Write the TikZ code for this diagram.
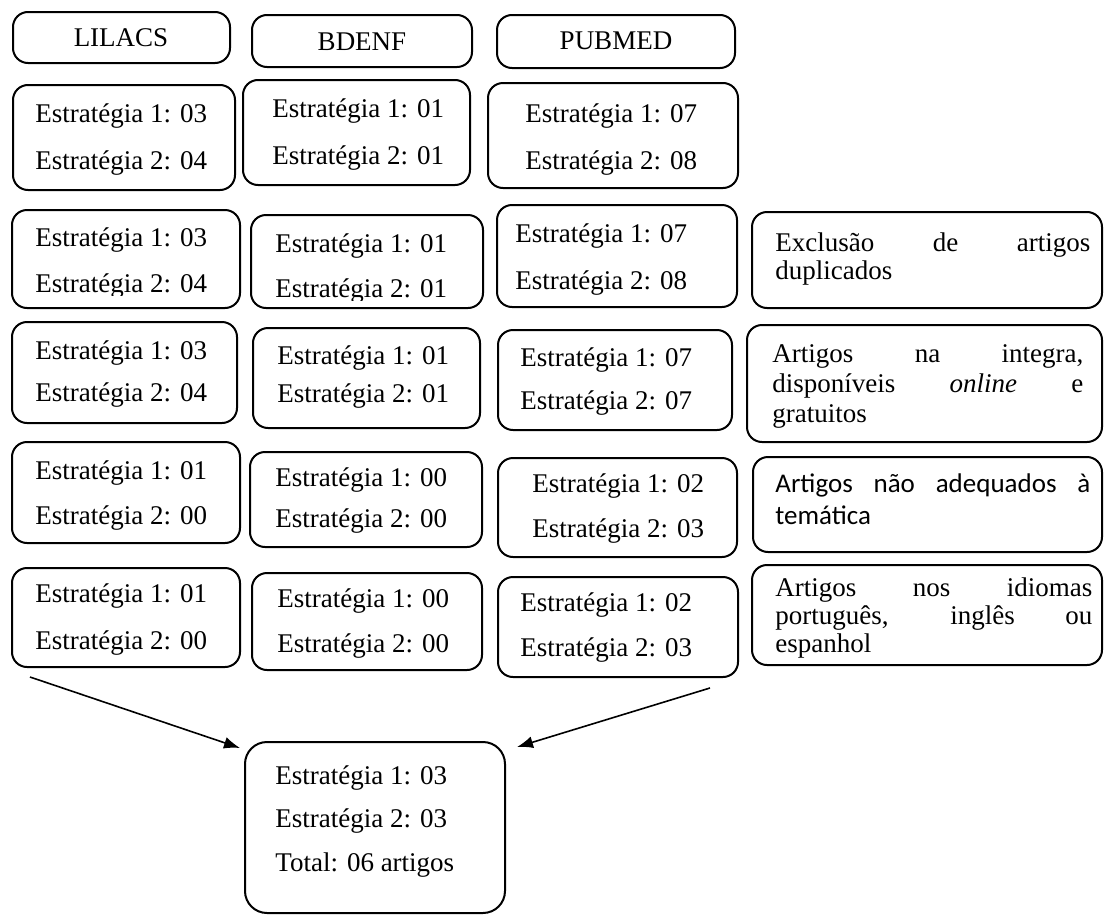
\documentclass[tikz,border=0pt]{standalone}
\usepackage{fontspec}
\setmainfont{Liberation Serif}
\newfontfamily\calib{Carlito}
\usetikzlibrary{fit,arrows.meta}
\begin{document}
\begin{tikzpicture}[x=0.5pt,y=-0.5pt,
  box/.style={draw, line width=1pt, rounded corners=7.5pt, inner sep=0pt},
  bigbox/.style={box, rounded corners=11pt},
  txt/.style={anchor=base west, inner sep=0pt, font=\fontsize{13.5}{16}\selectfont},
  ctxt/.style={anchor=base west, inner sep=0pt, font=\calib\fontsize{13.5}{16}\selectfont},
  hdr/.style={anchor=base, inner sep=0pt, font=\fontsize{13.5}{16}\selectfont},
  arr/.style={-{Latex[length=8pt,width=6pt]}, line width=0.8pt}]
\path[use as bounding box, fill=white] (0,0) rectangle (1104,916);
% headers
\node[box, fit={(13,12) (230,63)}] (lil) {};
\node[box, fit={(252,15) (472,67)}] (bde) {};
\node[box, fit={(497,15) (735,68)}] (pub) {};
\node[hdr] (tlil) at (121,46) {LILACS};
\node[hdr] (tbde) at (362,50) {BDENF};
\node[hdr] (tpub) at (616,49) {PUBMED};
% row 1
\node[box, fit={(13,85) (235,190)}] (l1) {};
\node[box, fit={(243,80) (470,185)}] (b1) {};
\node[box, fit={(488,83) (738,188)}] (p1) {};
\node[txt] (l1a) at (35,122) {Estratégia 1: 03};
\node[txt] (l1b) at (35,169) {Estratégia 2: 04};
\node[txt] (b1a) at (272,117) {Estratégia 1: 01};
\node[txt] (b1b) at (272,164) {Estratégia 2: 01};
\node[txt] (p1a) at (525,122) {Estratégia 1: 07};
\node[txt] (p1b) at (525,169) {Estratégia 2: 08};
% row 2
\node[box, fit={(12,210) (240,308)}] (l2) {};
\node[box, fit={(251,215) (483,308)}] (b2) {};
\node[box, fit={(497,205) (737,307)}] (p2) {};
\node[box, fit={(752,212) (1102,308)}] (r2) {};
\node[txt] (l2a) at (35,246) {Estratégia 1: 03};
\begin{scope}
  \clip (20,250) rectangle (235,295);
  \node[txt] (l2b) at (35,292) {Estratégia 2: 04};
\end{scope}
\node[txt] (b2a) at (275,252) {Estratégia 1: 01};
\begin{scope}
  \clip (255,256) rectangle (478,300);
  \node[txt] (b2b) at (275,297) {Estratégia 2: 01};
\end{scope}
\node[txt] (p2a) at (515,242) {Estratégia 1: 07};
\node[txt] (p2b) at (515,289) {Estratégia 2: 08};
\node[txt] (r2a) at (775,251) {\makebox[157.5pt][s]{Exclusão de artigos}};
\node[txt] (r2b) at (775,279) {duplicados};
% row 3
\node[box, fit={(12,322) (237,423)}] (l3) {};
\node[box, fit={(253,328) (480,428)}] (b3) {};
\node[box, fit={(498,330) (732,430)}] (p3) {};
\node[box, fit={(747,325) (1102,442)}] (r3) {};
\node[txt] (l3a) at (35,359) {Estratégia 1: 03};
\node[txt] (l3b) at (35,401) {Estratégia 2: 04};
\node[txt] (b3a) at (277,364) {Estratégia 1: 01};
\node[txt] (b3b) at (277,402) {Estratégia 2: 01};
\node[txt] (p3a) at (520,366) {Estratégia 1: 07};
\node[txt] (p3b) at (520,409) {Estratégia 2: 07};
\node[txt] (r3a) at (772,362) {\makebox[155.5pt][s]{Artigos na integra,}};
\node[txt] (r3b) at (772,392) {\makebox[155.5pt][s]{disponíveis \textit{online} e}};
\node[txt] (r3c) at (772,422) {gratuitos};
% row 4
\node[box, fit={(12,442) (240,543)}] (l4) {};
\node[box, fit={(250,452) (482,547)}] (b4) {};
\node[box, fit={(498,458) (737,557)}] (p4) {};
\node[box, fit={(753,457) (1102,552)}] (r4) {};
\node[txt] (l4a) at (35,479) {Estratégia 1: 01};
\node[txt] (l4b) at (35,524) {Estratégia 2: 00};
\node[txt] (b4a) at (275,486) {Estratégia 1: 00};
\node[txt] (b4b) at (275,527) {Estratégia 2: 00};
\node[txt] (p4a) at (532,492) {Estratégia 1: 02};
\node[txt] (p4b) at (532,537) {Estratégia 2: 03};
\node[ctxt] (r4a) at (775,492) {\makebox[157.5pt][s]{Artigos não adequados à}};
\node[ctxt] (r4b) at (775,524) {temática};
% row 5
\node[box, fit={(12,568) (240,667)}] (l5) {};
\node[box, fit={(252,573) (482,670)}] (b5) {};
\node[box, fit={(498,577) (738,677)}] (p5) {};
\node[box, fit={(752,565) (1102,665)}] (r5) {};
\node[txt] (l5a) at (35,602) {Estratégia 1: 01};
\node[txt] (l5b) at (35,649) {Estratégia 2: 00};
\node[txt] (b5a) at (277,607) {Estratégia 1: 00};
\node[txt] (b5b) at (277,652) {Estratégia 2: 00};
\node[txt] (p5a) at (520,611) {Estratégia 1: 02};
\node[txt] (p5b) at (520,656) {Estratégia 2: 03};
\node[txt] (r5a) at (775,596) {\makebox[158.5pt][s]{Artigos nos idiomas}};
\node[txt] (r5b) at (775,624) {\makebox[158.5pt][s]{português, inglês ou}};
\node[txt] (r5c) at (775,652) {espanhol};
% total
\node[bigbox, fit={(245,742) (505,913)}] (tot) {};
\node[txt] (ta) at (275,784) {Estratégia 1: 03};
\node[txt] (tb) at (275,827) {Estratégia 2: 03};
\node[txt] (tc) at (275,871) {Total: 06 artigos};
% arrows
\coordinate (s1) at (30,677);
\coordinate (e1) at (240,748);
\coordinate (s2) at (710,688);
\coordinate (e2) at (517,747);
\draw[arr] (s1) -- (e1);
\draw[arr] (s2) -- (e2);
\end{tikzpicture}
\end{document}
